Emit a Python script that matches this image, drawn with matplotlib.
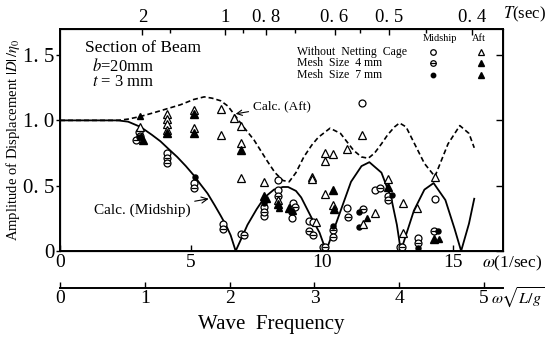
import numpy as np
import matplotlib.pyplot as plt

plt.rcParams['font.family'] = ['Liberation Serif', 'DejaVu Serif']
plt.rcParams['mathtext.fontset'] = 'stix'

#%% calculated curves (omega 1/sec, |D|/eta0)
w_mid = [0, 2.2, 2.6, 3.07, 3.5, 3.83, 4.2, 4.47, 4.8, 5.1, 5.36, 5.63, 5.9, 6.13,
         6.35, 6.51, 6.7, 6.95, 7.15, 7.5, 7.8, 8.16, 8.5, 8.7, 9.0, 9.2, 9.58, 9.9,
         10.15, 10.6, 11.1, 11.5, 11.8, 12.26, 12.64, 12.85, 13.0, 13.5, 13.9, 14.25,
         14.7, 15.05, 15.3, 15.6, 15.8]
d_mid = [1.0, 1.0, 0.99, 0.95, 0.89, 0.84, 0.77, 0.72, 0.65, 0.58, 0.51, 0.44, 0.35, 0.27,
         0.19, 0.12, 0.0, 0.11, 0.2, 0.32, 0.41, 0.47, 0.49, 0.49, 0.46, 0.41, 0.26, 0.14,
         0.0, 0.25, 0.53, 0.65, 0.68, 0.60, 0.40, 0.2, 0.0, 0.31, 0.47, 0.52,
         0.39, 0.17, 0.0, 0.21, 0.40]

w_aft = [0, 2.2, 2.6, 3.07, 3.6, 4.1, 4.6, 5.1, 5.5, 5.8, 6.13, 6.4, 6.63, 7.0, 7.4,
         7.9, 8.2, 8.5, 8.74, 9.0, 9.3, 9.6, 9.85, 10.3, 10.7, 11.2, 11.5, 11.76, 12.0,
         12.26, 12.5, 12.76, 12.95, 13.2, 13.4, 13.9, 14.3, 14.8, 15.25, 15.6, 15.8]
d_aft = [1.0, 1.0, 1.01, 1.03, 1.06, 1.09, 1.12, 1.16, 1.18, 1.17, 1.15, 1.11, 1.05, 0.95, 0.85,
         0.69, 0.60, 0.54, 0.53, 0.60, 0.72, 0.81, 0.87, 0.94, 0.90, 0.77, 0.72, 0.71, 0.75,
         0.82, 0.89, 0.95, 0.98, 0.95, 0.87, 0.67, 0.57, 0.82, 0.96, 0.90, 0.79]

#%% measured points
# midship
mid0_w = [3.0, 3.05, 4.1, 5.1, 6.2, 6.9, 7.8, 7.8, 8.3, 8.3, 8.9, 8.85, 9.5, 9.65,
          10.05, 10.96, 11.53, 12.0, 12.5, 12.95, 13.64, 14.3]
mid0_d = [0.91, 0.88, 0.75, 0.52, 0.21, 0.13, 0.34, 0.27, 0.54, 0.47, 0.37, 0.25, 0.23, 0.22,
          0.03, 0.33, 1.13, 0.47, 0.42, 0.03, 0.10, 0.40]
mid4_w = [2.9, 4.1, 4.1, 5.1, 6.2, 7.0, 7.8, 8.3, 8.95, 9.5, 9.65, 10.4, 10.4, 11.0,
          11.57, 12.2, 12.5, 13.05, 13.64, 14.25, 10.1]
mid4_d = [0.85, 0.71, 0.67, 0.48, 0.17, 0.12, 0.30, 0.42, 0.34, 0.15, 0.12, 0.16, 0.11, 0.26,
          0.32, 0.48, 0.39, 0.03, 0.06, 0.15, 0.03]
mid7_w = [3.0, 5.15, 7.8, 8.8, 10.4, 11.4, 11.4, 12.65, 13.64, 14.4]
mid7_d = [0.87, 0.565, 0.37, 0.30, 0.19, 0.30, 0.18, 0.43, 0.02, 0.15]
# aft
aft0_w = [3.05, 4.1, 4.1, 4.1, 4.1, 5.1, 5.1, 6.13, 6.13, 6.63, 6.9, 6.9, 6.9, 7.8, 8.3,
          9.6, 9.6, 9.75, 10.1, 10.1, 10.4, 10.1, 10.4, 10.96, 11.53, 11.57, 12.03, 12.5,
          13.07, 13.07, 13.6, 14.3]
aft0_d = [0.95, 1.05, 1.01, 0.97, 0.93, 1.08, 0.94, 1.09, 0.89, 1.02, 0.96, 0.83, 0.56, 0.53, 0.39,
          0.57, 0.55, 0.22, 0.75, 0.69, 0.74, 0.44, 0.35, 0.78, 0.89, 0.21, 0.29, 0.55,
          0.37, 0.14, 0.33, 0.57]
aft4_w = [3.15, 4.1, 5.1, 5.1, 6.9, 7.8, 8.3, 8.75, 10.4, 10.45, 12.5, 14.25]
aft4_d = [0.85, 0.90, 1.05, 0.90, 0.77, 0.42, 0.36, 0.33, 0.47, 0.32, 0.49, 0.09]
aft7_w = [3.07, 3.1, 7.9, 8.35, 8.9, 11.7, 14.45]
aft7_d = [1.03, 0.88, 0.40, 0.33, 0.31, 0.25, 0.09]

y_ticks = [0, 0.5, 1.0, 1.5]
y_labels = ['0', '0. 5', '1. 0', '1. 5']
w_ticks = [0, 5, 10, 15]
T_ticks = [2, 1, 0.8, 0.6, 0.5, 0.4]
T_labels = ['2', '1', '0. 8', '0. 6', '0. 5', '0. 4']
T_minor = [1.5, 0.9, 0.7, 0.55, 0.45]
nd_ticks = [0, 1, 2, 3, 4, 5]

#%% plotting
fig = plt.figure(figsize=(5.47, 3.39), dpi=100)
ax = fig.add_axes([0.1097, 0.2596, 0.810, 0.655])

ax.plot(w_mid, d_mid, color='black', lw=1.3)
ax.plot(w_aft, d_aft, color='black', lw=1.2, ls=(0, (3, 1.8)))

kw = dict(ls='none', color='black')
ax.plot(mid0_w, mid0_d, marker='o', ms=5, mfc='white', mew=0.9, **kw)
ax.plot(mid4_w, mid4_d, marker='o', ms=5, mfc='white', mew=0.9, **kw)
ax.plot(mid4_w, mid4_d, marker='_', ms=5, mew=0.9, **kw)
ax.plot(mid7_w, mid7_d, marker='o', ms=3.6, **kw)
ax.plot(aft0_w, aft0_d, marker='^', ms=5.5, mfc='white', mew=0.9, **kw)
ax.plot(aft4_w, aft4_d, marker='^', ms=5.5, **kw)
ax.plot(aft7_w, aft7_d, marker='^', ms=4, **kw)

ax.set_xlim(0, 16.9)
ax.set_ylim(0, 1.7)
ax.set_yticks(y_ticks)
ax.set_yticklabels(y_labels, fontsize=15)
ax.set_xticks(w_ticks)
ax.set_xticklabels([str(t) for t in w_ticks], fontsize=14)
ax.tick_params(axis='x', direction='in', length=4, width=1, top=False, pad=2)
ax.tick_params(axis='y', direction='out', length=3, width=1, pad=1)
for s in ax.spines.values():
    s.set_linewidth(1.4)
ax.set_ylabel(r'Amplitude of Displacement $|D|\,/\eta_0$', fontsize=10.5, labelpad=1)

# inward ticks on the right side
axr = ax.twinx()
axr.set_ylim(ax.get_ylim())
axr.set_yticks(y_ticks)
axr.set_yticklabels([])
axr.tick_params(direction='in', length=5, width=1)

# period axis on top
axt = ax.twiny()
axt.set_xlim(ax.get_xlim())
axt.set_xticks([2 * np.pi / T for T in T_ticks])
axt.set_xticklabels(T_labels, fontsize=13.5)
axt.set_xticks([2 * np.pi / T for T in T_minor], minor=True)
axt.tick_params(which='both', direction='in', length=4, width=1, pad=2)
axt.tick_params(which='minor', length=3)
fig.text(503 / 547, 1 - 14 / 339, r'$T$(sec)', fontsize=12, ha='left', va='center')
fig.text(482 / 547, 1 - 263 / 339, r'$\omega$(1/sec)', fontsize=12.5, ha='left', va='center')

# nondimensional frequency axis
axn = fig.add_axes([0.1097, 0.150, 0.810, 0.001])
axn.set_xlim(0, 5.224)
axn.set_yticks([])
for side in ['top', 'left', 'right']:
    axn.spines[side].set_visible(False)
axn.spines['bottom'].set_linewidth(1.4)
axn.set_xticks(nd_ticks)
axn.set_xticklabels([str(t) for t in nd_ticks], fontsize=14)
axn.tick_params(direction='in', length=4, width=1, pad=1)
fig.text(491 / 547, 1 - 298 / 339, r'$\omega\sqrt{L/g}$', fontsize=11.5, ha='left', va='center')
fig.text(271 / 547, 1 - 325 / 339, 'Wave  Frequency', fontsize=15, ha='center', va='center')

# annotations
ax.text(0.056, 0.914, 'Section of Beam', transform=ax.transAxes, fontsize=12.5, va='center')
ax.text(0.072, 0.829, r'$b$=20mm', transform=ax.transAxes, fontsize=12, va='center')
ax.text(0.072, 0.761, r'$t$ = 3 mm', transform=ax.transAxes, fontsize=12, va='center')

ax.annotate('Calc. (Aft)', xy=(6.7, 1.05), xytext=(7.35, 1.11), fontsize=9.5,
            ha='left', va='center',
            arrowprops=dict(arrowstyle='->', lw=0.8, color='black', shrinkA=1, shrinkB=0))
ax.annotate('Calc. (Midship)', xy=(5.67, 0.40), xytext=(4.98, 0.31), fontsize=11,
            ha='right', va='center',
            arrowprops=dict(arrowstyle='->', lw=0.8, color='black', shrinkA=1, shrinkB=0))

# legend drawn by hand
tr = ax.transAxes
ax.text(0.858, 0.957, 'Midship', transform=tr, fontsize=7.5, ha='center', va='center')
ax.text(0.946, 0.957, 'Aft', transform=tr, fontsize=7.5, ha='center', va='center')
rows = [0.898, 0.846, 0.794]
names = ['Without  Netting  Cage', 'Mesh  Size  4 mm', 'Mesh  Size  7 mm']
for yy, name in zip(rows, names):
    ax.text(0.535, yy, name, transform=tr, fontsize=8.5, va='center')
ax.plot([0.842], [rows[0]], marker='o', ms=4, mfc='white', mew=0.9, transform=tr, clip_on=False, **kw)
ax.plot([0.842], [rows[1]], marker='o', ms=4, mfc='white', mew=0.9, transform=tr, clip_on=False, **kw)
ax.plot([0.842], [rows[1]], marker='_', ms=4, mew=0.9, transform=tr, clip_on=False, **kw)
ax.plot([0.842], [rows[2]], marker='o', ms=3.2, transform=tr, clip_on=False, **kw)
ax.plot([0.950], [rows[0]], marker='^', ms=4.5, mfc='white', mew=0.9, transform=tr, clip_on=False, **kw)
ax.plot([0.950], [rows[1]], marker='^', ms=5, transform=tr, clip_on=False, **kw)
ax.plot([0.950], [rows[2]], marker='^', ms=3.8, transform=tr, clip_on=False, **kw)

fig.savefig('out.png', dpi=100)
